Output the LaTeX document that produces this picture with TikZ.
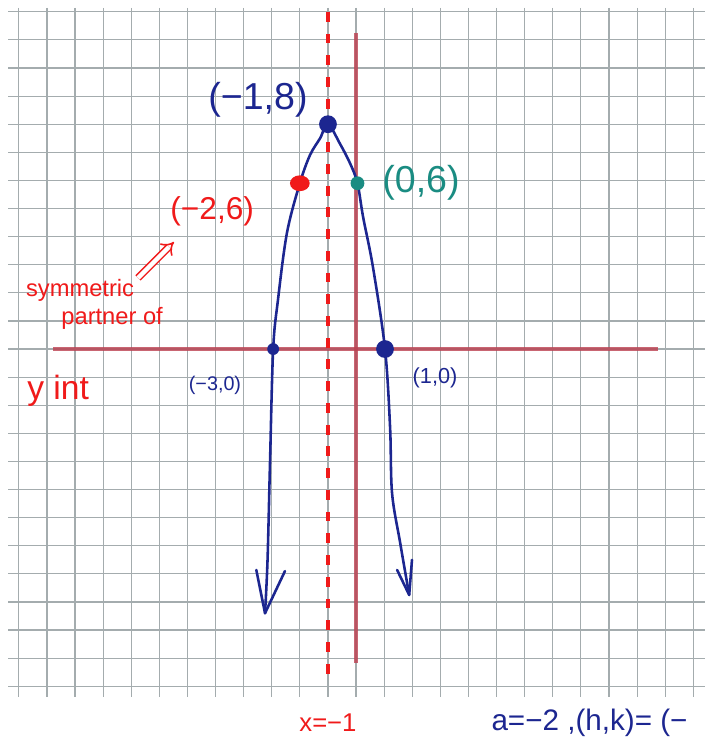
\documentclass[tikz,border=0pt]{standalone}
\usepackage{fontspec}
\setmainfont{Liberation Sans}
\usetikzlibrary{arrows.meta,shapes.geometric}
\definecolor{navy}{HTML}{1C2690}
\definecolor{penred}{HTML}{F01A1A}
\definecolor{penteal}{HTML}{1A8C82}
\definecolor{axisred}{HTML}{BC4050}
\definecolor{gridgray}{HTML}{A4ACAE}
\tikzset{
  gridline/.style={gridgray, line width=0.6pt},
  axisline/.style={axisred, opacity=0.8, line width=2.4pt},
  curve/.style={navy, line width=1.3pt, line cap=round, line join=round},
  symline/.style={penred, line width=1.6pt, dash pattern=on 5pt off 6pt},
  dotnode/.style={circle, fill=#1, inner sep=0pt},
  lbl/.style={inner sep=0.5pt}
}
\begin{document}
\begin{tikzpicture}[x=0.5cm, y=0.5cm]
\fill[white] (-12.67,-13.84) rectangle (12.42,12.42);
\useasboundingbox (-12.67,-13.84) rectangle (12.42,12.42);
% grid
\foreach \i in {-12,...,12} {
  \draw[gridline] (\i,12.14) -- (\i,-12.38);
  \draw[gridline] (-12.38,\i) -- (12.42,\i);
}
% axes
\draw[axisline] (-10.78,0) -- (10.75,0);
\draw[axisline] (0,11.25) -- (0,-11.17);
% axis of symmetry
\draw[symline] (-1,12) -- (-1,-11.6);
% points
\coordinate (vtx) at (-1,8);
\coordinate (lroot) at (-2.95,0);
\coordinate (rroot) at (1.03,0);
\coordinate (ptL) at (-2,5.9);
\coordinate (ptR) at (0.05,5.9);
\coordinate (ltip) at (-3.24,-9.4);
\coordinate (rtip) at (1.89,-8.75);
% parabola
\draw[curve] plot[smooth, tension=0.55] coordinates {
  (ltip) (-3.15,-7.5) (-3.06,-3.95) (lroot) (-2.78,1.74) (-2.46,4.13)
  (ptL) (-1.64,6.9) (-1.28,7.5) (vtx) (-0.57,7.3) (-0.21,6.6) (ptR)
  (0.25,4.7) (0.6,2.92) (rroot) (1.21,-2.78) (1.28,-5.12) (1.57,-6.9) (rtip)};
% hand-drawn arrowheads
\coordinate (la1) at (-3.55,-7.86);
\coordinate (la2) at (-2.53,-7.9);
\coordinate (ra1) at (1.46,-7.86);
\coordinate (ra2) at (1.99,-7.5);
\draw[curve] (la1) -- (ltip) -- (la2);
\draw[curve] (ra1) -- (rtip) -- (ra2);
% dots
\node[dotnode=navy, minimum size=9pt] (vdot) at (vtx) {};
\node[dotnode=navy, minimum size=6pt] (ldot) at (-2.95,0) {};
\node[dotnode=navy, minimum size=9pt] (rdot) at (rroot) {};
\node[ellipse, fill=penred, inner sep=0pt, minimum width=10pt, minimum height=8pt] (reddot) at (-2,5.9) {};
\node[dotnode=penteal, minimum size=7pt] (tealdot) at (ptR) {};
% labels
\node[lbl, navy, font=\fontsize{19}{21}\selectfont] (vlab) at (-3.49,8.86) {(−1,8)};
\node[lbl, penteal, font=\fontsize{19}{21}\selectfont] (tlab) at (2.31,5.9) {(0,6)};
\node[lbl, penred, font=\fontsize{16}{18}\selectfont] (rlab) at (-5.12,4.91) {(−2,6)};
\node[lbl, penred, font=\fontsize{12}{14}\selectfont] (sym) at (-9.82,2.1) {symmetric};
\node[lbl, penred, font=\fontsize{12}{14}\selectfont] (part) at (-8.68,1.1) {partner of};
\coordinate (arrA) at (-7.76,2.53);
\coordinate (arrB) at (-6.48,3.81);
\draw[penred, line width=0.8pt, double=white, double distance=2.2pt, -{Implies}] (arrA) -- (arrB);
\node[lbl, penred, font=\fontsize{17}{19}\selectfont] (yint) at (-10.6,-1.5) {y int};
\node[lbl, navy, font=\fontsize{10}{12}\selectfont] (llab) at (-5.02,-1.28) {(−3,0)};
\node[lbl, navy, font=\fontsize{11}{13}\selectfont] (rrlab) at (2.81,-1.03) {(1,0)};
\node[lbl, penred, font=\fontsize{13}{15}\selectfont] (xeq) at (-1,-13.3) {x=−1};
\node[lbl, navy, font=\fontsize{15}{17}\selectfont, anchor=west] (aeq) at (4.77,-13.3) {a=−2 ,(h,k)= (−};
\end{tikzpicture}
\end{document}
